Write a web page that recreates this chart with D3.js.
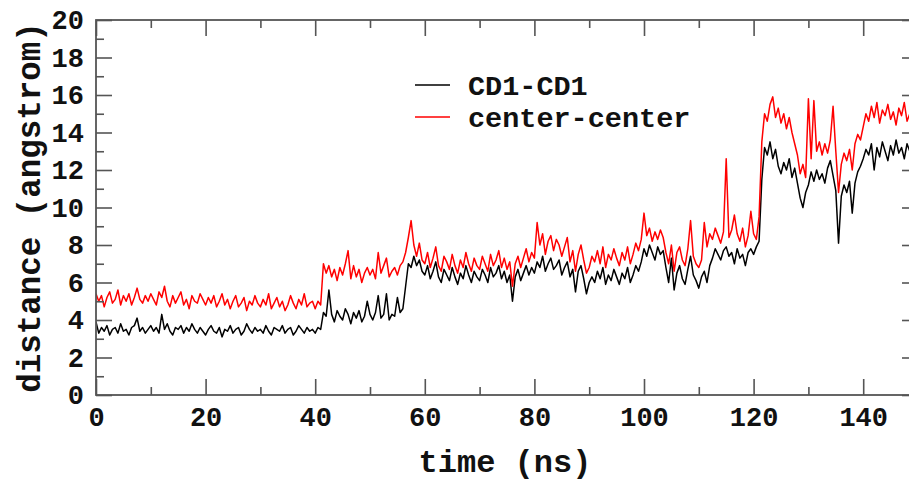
<!DOCTYPE html>
<html>
<head>
<meta charset="utf-8">
<script src="https://cdn.jsdelivr.net/npm/d3@7"></script>
<style>
  html, body { margin: 0; padding: 0; background: #fff; }
  svg { display: block; }
  text { font-family: "Liberation Mono", "Courier New", monospace; font-weight: bold; fill: #111; }
</style>
</head>
<body>
<div id="chart"></div>
<script>
// ---------------- data ----------------
const timeStart = 0;      // ns
const timeStep = 0.5;     // ns between samples
const seriesNames = ["CD1-CD1", "center-center"];
const seriesColors = ["#000000", "#ff0000"];

const cd1cd1 = [
  3.9,3.3,3.6,3.4,3.7,3.2,3.5,3.6,3.3,3.8, 3.4,3.5,3.2,3.6,3.7,4.1,3.4,3.6,3.3,3.5,
  3.7,3.4,3.6,3.3,4.3,3.5,3.8,3.4,3.2,3.6, 3.5,3.7,3.3,3.6,3.4,3.8,3.5,3.3,3.6,3.4,
  3.2,3.5,3.7,3.4,3.3,3.6,3.1,3.5,3.4,3.7, 3.3,3.5,3.6,3.2,3.4,3.8,3.5,3.3,3.6,3.4,
  3.5,3.3,3.7,3.4,3.2,3.6,3.5,3.4,3.7,3.3, 3.5,3.6,3.2,3.4,3.7,3.5,3.3,3.6,3.4,3.5,
  3.3,3.6,3.5,4.4,4.2,5.6,4.3,3.9,4.5,4.2, 4.0,4.6,4.3,3.8,4.4,4.1,4.5,3.9,4.2,5.0,
  4.3,4.0,4.4,5.3,4.1,4.3,5.4,4.0,4.3,4.2, 5.2,4.4,4.6,5.8,7.0,6.8,7.4,6.9,7.2,6.6,
  6.4,6.9,6.2,6.6,7.1,6.3,6.0,6.7,6.4,6.1, 6.8,6.3,5.9,6.5,6.2,6.9,6.4,6.0,6.6,6.3,
  6.1,6.7,6.4,6.0,6.8,6.3,6.5,6.9,6.2,6.6, 6.0,6.4,5.0,6.3,6.7,6.1,6.5,6.9,6.4,6.8,
  6.5,7.1,6.8,7.4,6.6,7.0,7.3,6.7,6.9,7.2, 6.4,6.8,7.1,6.3,6.7,5.5,6.6,6.9,6.2,5.4,
  6.0,6.3,6.0,6.6,6.2,6.8,5.9,6.4,6.1,6.7, 6.3,5.9,6.5,6.2,6.8,6.0,6.4,6.9,6.6,7.1,
  7.8,7.4,8.0,7.6,7.2,7.9,7.5,7.7,6.8,6.0, 7.3,5.6,6.5,6.9,6.2,5.9,6.7,7.4,6.4,6.1,
  5.7,6.3,6.6,6.0,6.9,7.3,7.8,7.5,7.2,7.7, 7.9,7.4,7.6,7.0,7.8,7.3,7.5,6.9,7.6,7.8,
  7.5,7.9,8.2,11.5,13.2,12.8,13.5,12.6,13.1,12.2, 11.8,12.4,12.0,12.6,11.6,12.1,11.3,10.5,10.0,10.8,
  11.2,11.9,11.4,12.0,11.5,11.8,11.3,12.1,12.5,11.7, 10.9,8.1,10.6,11.2,10.8,11.4,9.7,11.3,11.9,12.2,
  12.6,13.1,12.8,13.4,12.0,13.2,12.7,13.5,13.0,12.5, 13.3,12.8,13.6,12.9,13.2,12.6,13.4,13.0,12.8,13.3,
  13.1
];

const centerCenter = [
  5.4,5.0,5.3,4.7,5.2,5.5,4.9,5.1,5.6,4.8, 5.3,5.0,5.4,4.8,5.2,5.7,5.1,4.9,5.3,5.0,
  5.4,5.1,4.8,5.5,5.2,5.8,5.0,4.7,5.3,4.9, 5.2,5.5,4.8,5.1,4.6,5.3,5.0,4.9,5.4,5.1,
  4.8,5.2,4.9,5.3,4.7,5.0,5.4,4.8,5.1,4.6, 5.0,5.3,4.7,4.9,5.2,4.5,5.0,4.8,5.3,4.9,
  4.7,5.1,4.8,5.4,4.6,4.9,5.2,4.7,5.0,4.5, 4.8,5.3,4.9,4.6,5.1,4.8,5.4,4.7,4.9,5.0,
  4.6,5.0,4.8,7.0,6.5,6.9,6.3,6.7,6.1,6.8, 6.4,7.0,7.7,6.2,6.9,6.3,6.7,6.0,6.5,6.8,
  6.4,6.7,6.2,7.6,6.5,6.9,7.3,6.3,6.6,6.8, 6.4,6.9,7.1,7.6,8.4,9.3,8.0,7.4,8.1,7.2,
  7.0,7.6,6.8,7.3,7.9,6.9,6.6,7.4,7.1,6.7, 7.5,6.9,6.5,7.2,6.8,7.6,7.0,6.6,7.3,6.9,
  6.7,7.4,7.0,6.6,7.5,6.9,7.2,7.7,6.8,7.3, 6.7,7.1,5.8,7.0,7.4,6.8,7.3,7.8,7.1,7.6,
  7.3,9.2,8.0,8.6,7.5,8.2,8.5,7.7,8.3,8.0, 7.4,7.9,8.4,7.1,7.7,6.6,7.5,8.0,7.2,6.5,
  6.8,7.4,7.1,7.7,7.0,7.9,6.8,7.5,7.2,7.8, 7.3,6.9,7.6,7.2,7.9,7.0,7.5,8.1,7.7,8.3,
  9.7,8.5,8.9,8.2,8.7,8.3,8.8,8.4,7.6,7.0, 8.0,6.6,7.6,7.9,7.2,6.9,7.8,9.3,7.4,7.0,
  6.8,7.2,9.2,7.9,8.6,8.3,8.9,8.5,8.1,8.7, 12.6,8.4,8.8,9.6,8.6,8.2,8.9,7.9,8.5,9.8,
  8.6,8.3,9.5,13.5,15.0,14.6,15.5,15.9,14.8,15.3, 14.5,15.0,14.2,14.8,14.0,13.4,12.8,11.8,12.3,11.6,
  15.8,12.6,15.7,13.0,13.5,12.8,13.4,12.9,13.6,15.4, 13.0,10.8,12.3,12.9,12.5,13.1,12.0,13.4,13.9,13.6,
  14.3,15.0,14.6,15.4,14.8,15.6,14.5,15.2,14.9,15.5, 14.7,15.1,14.4,15.3,14.9,15.6,14.6,15.0,15.3,14.8,
  15.0
];

const xTicks = [0, 20, 40, 60, 80, 100, 120, 140];
const yTicks = [0, 2, 4, 6, 8, 10, 12, 14, 16, 18, 20];
const xLabel = "time (ns)";
const yLabel = "distance (angstrom)";

// ---------------- layout ----------------
const W = 909, H = 483;
const margin = { left: 96, top: 20, right: -9, bottom: 88 };
const plotL = margin.left, plotR = W - margin.right, plotT = margin.top, plotB = H - margin.bottom;

const x = d3.scaleLinear().domain([0, 150]).range([plotL, plotR]);
const y = d3.scaleLinear().domain([0, 20]).range([plotB, plotT]);

const svg = d3.select("#chart").append("svg").attr("width", W).attr("height", H);

svg.append("defs").append("clipPath").attr("id", "clip")
  .append("rect").attr("x", plotL).attr("y", plotT).attr("width", plotR - plotL).attr("height", plotB - plotT);

const series = [cd1cd1, centerCenter].map((vals, i) => ({
  name: seriesNames[i], color: seriesColors[i],
  points: vals.map((v, j) => [timeStart + j * timeStep, v])
}));

const line = d3.line().x(d => x(d[0])).y(d => y(d[1]));

const g = svg.append("g").attr("clip-path", "url(#clip)");
g.selectAll("path.series").data(series).join("path")
  .attr("class", "series")
  .attr("fill", "none")
  .attr("stroke", d => d.color)
  .attr("stroke-width", 1.5)
  .attr("stroke-linejoin", "round")
  .attr("d", d => line(d.points));

// ---------------- axes ----------------
const axisColor = "#555";
const majorLen = 16, minorLen = 8;
const tickFont = 27;
const xMinor = d3.range(0, 151, 10).filter(v => !xTicks.includes(v));
const yMinor = d3.range(1, 20, 2);

function styleAxis(sel) {
  sel.select(".domain").remove();
  sel.selectAll(".tick line").attr("stroke", axisColor).attr("stroke-width", 1.6);
}
function styleLabels(sel) {
  sel.selectAll("text").attr("font-size", tickFont).attr("fill", "#111")
    .attr("font-family", "Liberation Mono").attr("font-weight", "bold");
}

// bottom major with labels
const xAxisB = svg.append("g").attr("transform", `translate(0,${plotB})`)
  .call(d3.axisBottom(x).tickValues(xTicks).tickSize(-majorLen).tickPadding(12).tickFormat(d3.format("d")));
styleAxis(xAxisB); styleLabels(xAxisB);
svg.append("g").attr("transform", `translate(0,${plotB})`)
  .call(d3.axisBottom(x).tickValues(xMinor).tickSize(-minorLen).tickFormat("")).call(styleAxis);
// top
svg.append("g").attr("transform", `translate(0,${plotT})`)
  .call(d3.axisTop(x).tickValues(xTicks).tickSize(-majorLen).tickFormat("")).call(styleAxis);
svg.append("g").attr("transform", `translate(0,${plotT})`)
  .call(d3.axisTop(x).tickValues(xMinor).tickSize(-minorLen).tickFormat("")).call(styleAxis);

// left
const yAxisL = svg.append("g").attr("transform", `translate(${plotL},0)`)
  .call(d3.axisLeft(y).tickValues(yTicks).tickSize(-majorLen).tickPadding(12).tickFormat(d3.format("d")));
styleAxis(yAxisL); styleLabels(yAxisL);
svg.append("g").attr("transform", `translate(${plotL},0)`)
  .call(d3.axisLeft(y).tickValues(yMinor).tickSize(-minorLen).tickFormat("")).call(styleAxis);
// right
svg.append("g").attr("transform", `translate(${plotR},0)`)
  .call(d3.axisRight(y).tickValues(yTicks).tickSize(-majorLen).tickFormat("")).call(styleAxis);
svg.append("g").attr("transform", `translate(${plotR},0)`)
  .call(d3.axisRight(y).tickValues(yMinor).tickSize(-minorLen).tickFormat("")).call(styleAxis);

// frame
svg.append("rect").attr("x", plotL).attr("y", plotT).attr("width", plotR - plotL).attr("height", plotB - plotT)
  .attr("fill", "none").attr("stroke", axisColor).attr("stroke-width", 1.8);

// axis titles
svg.append("text").attr("x", (plotL + plotR) / 2 - 2).attr("y", 472)
  .attr("text-anchor", "middle").attr("font-size", 32).text(xLabel);
svg.append("text").attr("transform", `translate(40,${(plotT + plotB) / 2}) rotate(-90)`)
  .attr("text-anchor", "middle").attr("font-size", 32.5).text(yLabel);

// legend
const legend = svg.append("g");
const legY = [85, 117];
series.forEach((s, i) => {
  legend.append("line").attr("x1", 415).attr("x2", 450).attr("y1", legY[i]).attr("y2", legY[i])
    .attr("stroke", s.color).attr("stroke-width", 1.3);
  legend.append("text").attr("x", 468).attr("y", legY[i] + 10).attr("font-size", 28.5).text(s.name);
});
</script>
</body>
</html>
